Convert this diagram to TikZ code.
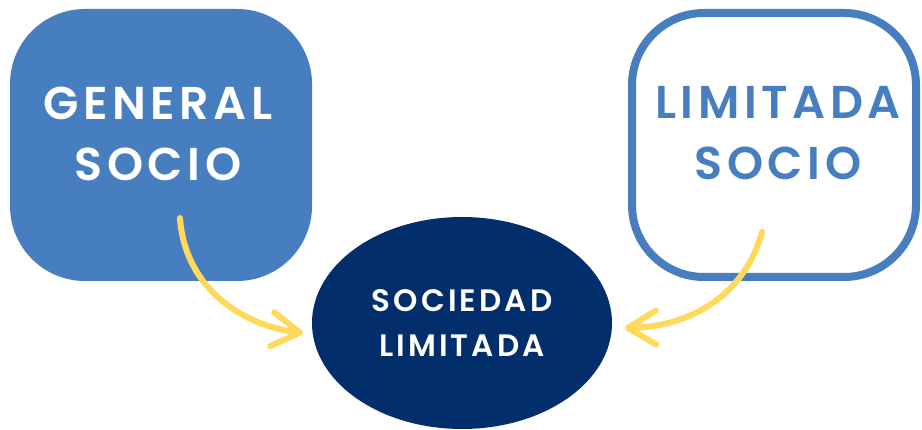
\documentclass[tikz,border=0pt]{standalone}
\usepackage{fontspec}
\setmainfont{Poppins}[BoldFont={Poppins SemiBold}, LetterSpace=10]
\usetikzlibrary{shapes.geometric,arrows.meta}
\definecolor{boxblue}{HTML}{477EBF}
\definecolor{navy}{HTML}{022E6B}
\definecolor{arrowyellow}{HTML}{FFD95A}
\begin{document}
\begin{tikzpicture}[x=1pt,y=-1pt,
  genbox/.style={rectangle, rounded corners=75pt, fill=boxblue, draw=none, minimum width=302pt, minimum height=272pt, inner sep=0pt},
  limbox/.style={rectangle, rounded corners=72pt, fill=white, draw=boxblue, line width=8pt, minimum width=284pt, minimum height=264pt, inner sep=0pt},
  bigtext/.style={align=center, inner sep=0pt, font=\fontsize{46}{61}\selectfont\bfseries},
  soc/.style={ellipse, fill=navy, draw=none, minimum width=300pt, minimum height=212pt, inner sep=0pt, text=white, align=center, font=\fontsize{31}{45}\selectfont\bfseries},
  conn/.style={arrowyellow, line width=6pt, line cap=round, line join=round, -{Straight Barb[length=28pt, width=34pt, line cap=round, line join=round]}}
]
\useasboundingbox (0,0) rectangle (922,430);
\node[genbox] (gen) at (161,145) {};
\node[bigtext, text=white] (gentext) at (158,134) {GENERAL\\SOCIO};
\node[limbox] (lim) at (774,145) {};
\node[bigtext, text=boxblue] (limtext) at (778,133.5) {LIMITADA\\SOCIO};
\node[soc] (sl) at (462,323) {SOCIEDAD\\LIMITADA};
\coordinate (a1) at (180,218);
\coordinate (t1) at (303,333);
\coordinate (a2) at (762,232);
\coordinate (t2) at (625,328);
\draw[conn] (a1) .. controls (185,290) and (245,326) .. (t1);
\draw[conn] (a2) .. controls (745,295) and (690,327) .. (t2);
\end{tikzpicture}
\end{document}
